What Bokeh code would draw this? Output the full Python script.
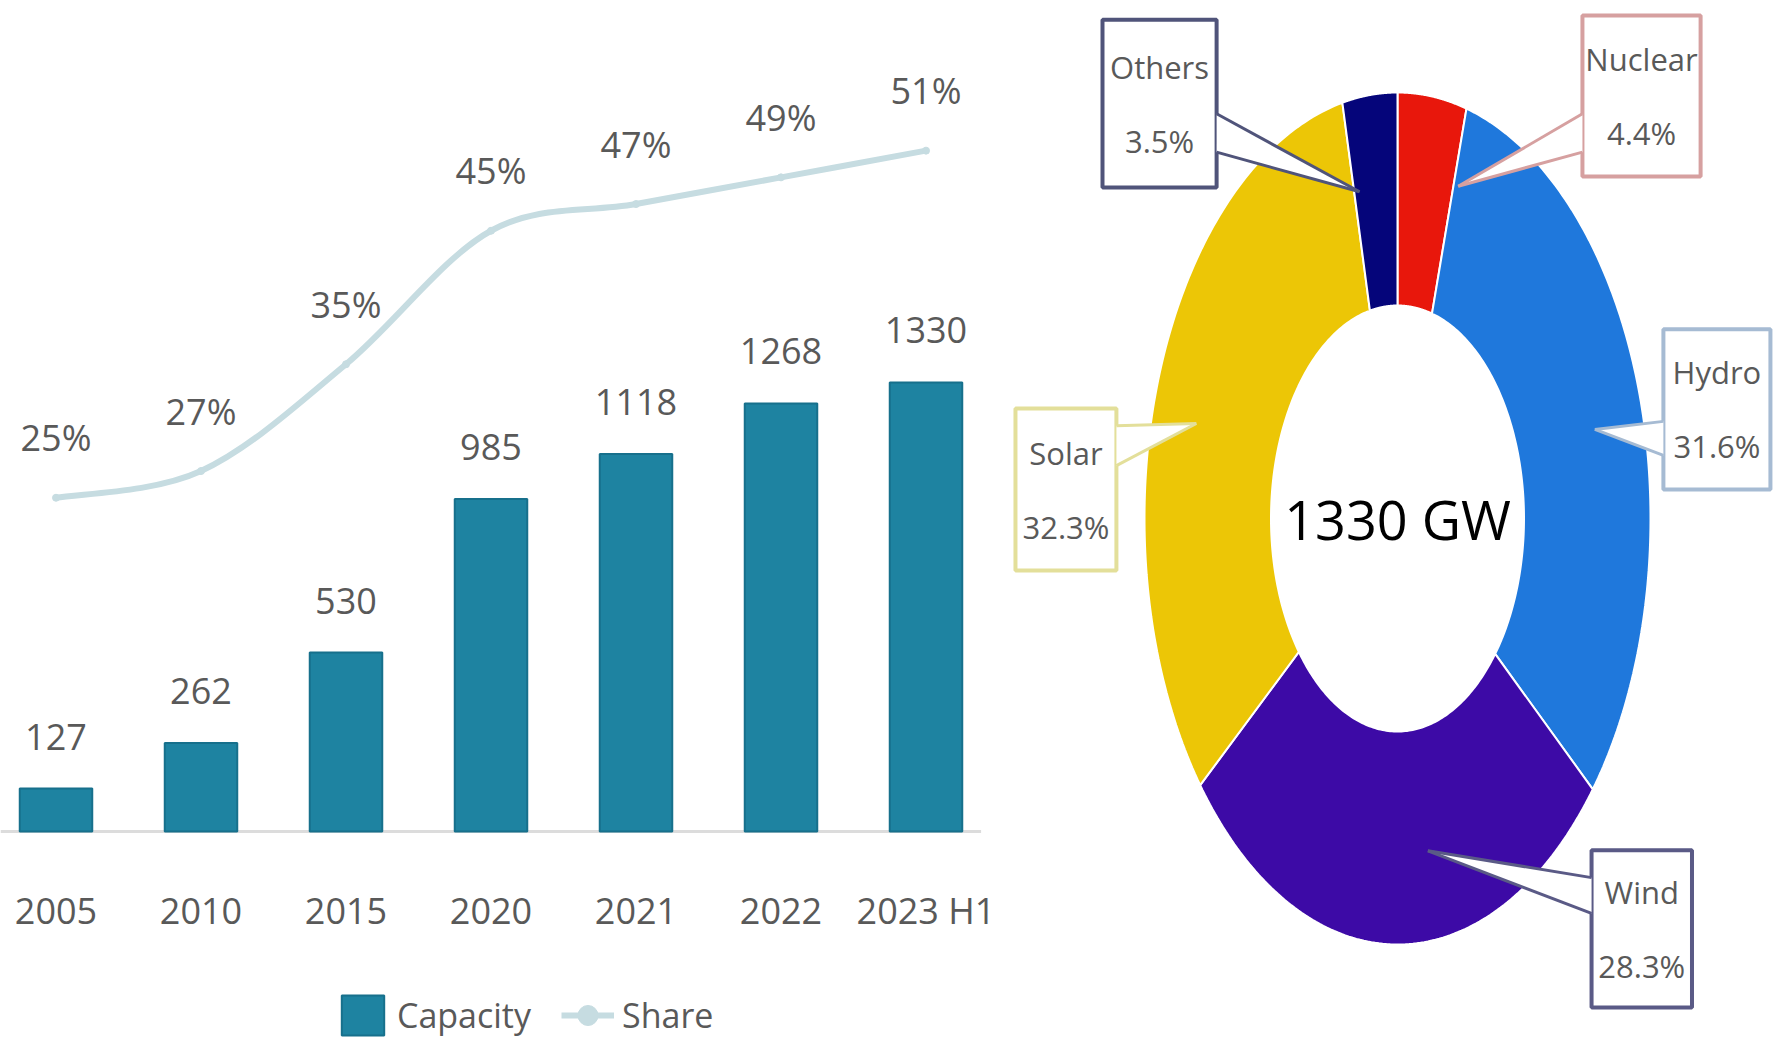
import numpy as np
from bokeh.plotting import figure
from bokeh.models import Range1d, Legend, LegendItem, ColumnDataSource
from bokeh.embed import file_html
from bokeh.resources import INLINE
from bokeh.core.properties import value

# ---------------- data ----------------
years = ["2005", "2010", "2015", "2020", "2021", "2022", "2023 H1"]
capacity = [127, 262, 530, 985, 1118, 1268, 1330]
share = [25, 27, 35, 45, 47, 49, 51]

sources = ["Nuclear", "Hydro", "Wind", "Solar", "Others"]
source_share = [4.4, 31.6, 28.3, 32.3, 3.5]
source_colors = ["#e8170c", "#1f78dc", "#3d0aa6", "#ecc606", "#05057a"]
callout_colors = ["#d6a0a0", "#a6bbd3", "#5a5a86", "#e3df9a", "#50547a"]
total_label = "1330 GW"

FONT = "Open Sans"
GRAY = "#595959"
BAR = "#1e83a1"
LINE = "#c6dce1"

W, H = 1777, 1045
BASE = 831          # baseline of the bar chart, px from top
CAP_PX = 0.3376     # px per GW
SHARE_PX = 13.35    # px per percentage point
CX, CY = 1397, 518  # donut centre, px
RX, RY = 253, 426   # donut outer radii, px

# one frame covering the whole page; each chart has its own ranges
x0 = -55.5 / 145.0
p = figure(width=W, height=H, x_range=Range1d(x0, x0 + W / 145.0),
           y_range=Range1d(-(H - BASE) / CAP_PX, BASE / CAP_PX),
           output_backend="svg",
           toolbar_location=None, x_axis_location=None, y_axis_location=None,
           min_border_left=0, min_border_right=0, min_border_top=0,
           min_border_bottom=0, outline_line_color=None, title=None)
p.xgrid.visible = False
p.ygrid.visible = False
p.extra_y_ranges = {"share": Range1d(-(H - BASE) / SHARE_PX, BASE / SHARE_PX),
                    "pie_y": Range1d(-(H - CY) / RY, CY / RY)}
p.extra_x_ranges = {"pie_x": Range1d(-CX / RX, (W - CX) / RX)}

# ---------------- left: bars + share line ----------------
xs = list(range(len(years)))
src = ColumnDataSource(dict(
    x=xs, cap=capacity, share=share, zero=[0] * len(xs),
    year=years,
    cap_lbl=[str(c) for c in capacity],
    share_lbl=[f"{s}%" for s in share],
))

# baseline (category axis line)
p.segment(x0=[p.x_range.start], x1=[xs[-1] + 0.38], y0=[0], y1=[0],
          line_color="#dcdcdc", line_width=3)

bars = p.vbar(x="x", top="cap", width=0.5, source=src,
              fill_color=BAR, line_color="#17708c", line_width=2)

# smoothed share line (Bezier segments through the data points)
n = len(xs)
P = np.column_stack([xs, share]).astype(float)
bz = dict(x0=[], y0=[], x1=[], y1=[], cx0=[], cy0=[], cx1=[], cy1=[])
for i in range(n - 1):
    a = P[max(i - 1, 0)]
    b = P[i]
    c = P[i + 1]
    d = P[min(i + 2, n - 1)]
    c1 = b + (c - a) / 6.0
    c2 = c - (d - b) / 6.0
    bz["x0"].append(b[0]); bz["y0"].append(b[1])
    bz["x1"].append(c[0]); bz["y1"].append(c[1])
    bz["cx0"].append(c1[0]); bz["cy0"].append(c1[1])
    bz["cx1"].append(c2[0]); bz["cy1"].append(c2[1])
p.bezier(source=ColumnDataSource(bz), x0="x0", y0="y0", x1="x1", y1="y1",
         cx0="cx0", cy0="cy0", cx1="cx1", cy1="cy1", y_range_name="share",
         line_color=LINE, line_width=6)
# legend swatch only (draws nothing in the plot)
ln = p.line(x=[0, 0], y=[np.nan, np.nan], line_color=LINE, line_width=6,
            y_range_name="share")
pts = p.scatter("x", "share", source=src, y_range_name="share",
                marker="circle", size=7, fill_color=LINE, line_color=LINE)

p.text("x", "cap", text="cap_lbl", source=src, y_offset=-52,
       text_align="center", text_baseline="middle",
       text_font=value(FONT), text_font_size="36px", text_color=GRAY)
p.text("x", "share", text="share_lbl", source=src, y_range_name="share",
       y_offset=-60, text_align="center", text_baseline="middle",
       text_font=value(FONT), text_font_size="36px", text_color=GRAY)
# category labels under the baseline
p.text("x", "zero", text="year", source=src, y_offset=79,
       text_align="center", text_baseline="middle",
       text_font=value(FONT), text_font_size="36px", text_color=GRAY)

legend = Legend(items=[LegendItem(label="Capacity", renderers=[bars]),
                       LegendItem(label="Share", renderers=[ln, pts])],
                orientation="horizontal", location=(336, 5),
                border_line_color=None, background_fill_alpha=0,
                glyph_width=53, glyph_height=50, margin=0, padding=0,
                spacing=30, label_standoff=8,
                label_text_font=FONT, label_text_font_size="34px",
                label_text_color=GRAY, label_height=50)
p.add_layout(legend, "center")

# ---------------- right: donut ----------------
PX, PY = "pie_x", "pie_y"
inner_r = 0.5
cum = np.concatenate([[0.0], np.cumsum(source_share)])
tot = cum[-1]
wx, wy = [], []
for i in range(len(source_share)):
    t = np.linspace(cum[i] / tot * 2 * np.pi, cum[i + 1] / tot * 2 * np.pi, 120)
    wx.append(np.concatenate([np.sin(t), inner_r * np.sin(t[::-1])]))
    wy.append(np.concatenate([np.cos(t), inner_r * np.cos(t[::-1])]))
p.patches(xs=wx, ys=wy, fill_color=source_colors, line_color="white",
          line_width=2, x_range_name=PX, y_range_name=PY)

p.text(x=[0], y=[0], text=[total_label], text_align="center",
       text_baseline="middle", text_font=value(FONT),
       text_font_size="54px", text_color="black",
       x_range_name=PX, y_range_name=PY)

# callout layout (box left, right, top, bottom; side of pointer; pointer
# base y0, y1; pointer tip x, y) in donut coordinates
boxes = {
    "Nuclear": (0.731, 1.198, 1.181, 0.803, "left", 0.95, 0.86, 0.24, 0.78),
    "Hydro": (1.051, 1.474, 0.444, 0.068, "left", 0.228, 0.148, 0.78, 0.209),
    "Wind": (0.767, 1.164, -0.779, -1.148, "left", -0.843, -0.927, 0.12, -0.78),
    "Solar": (-1.510, -1.111, 0.258, -0.122, "right", 0.218, 0.124, -0.795, 0.223),
    "Others": (-1.166, -0.715, 1.171, 0.777, "right", 0.95, 0.86, -0.15, 0.767),
}
for name, pct, bc in zip(sources, source_share, callout_colors):
    l, r, t, b, side, y0, y1, tx, ty = boxes[name]
    p.quad(left=[l], right=[r], top=[t], bottom=[b], fill_color="white",
           line_color=bc, line_width=4, x_range_name=PX, y_range_name=PY)
    bx = l if side == "left" else r
    p.patch(x=[bx, tx, bx], y=[y0, ty, y1], fill_color="white",
            line_color=None, x_range_name=PX, y_range_name=PY)
    p.segment(x0=[bx, bx], y0=[y0, y1], x1=[tx, tx], y1=[ty, ty],
              line_color=bc, line_width=3, x_range_name=PX, y_range_name=PY)
    cx, cy = (l + r) / 2, (t + b) / 2
    p.text(x=[cx], y=[cy], text=[name], y_offset=-37,
           text_align="center", text_baseline="middle",
           text_font=value(FONT), text_font_size="31px", text_color=GRAY,
           x_range_name=PX, y_range_name=PY)
    p.text(x=[cx], y=[cy], text=[f"{pct}%"], y_offset=37,
           text_align="center", text_baseline="middle",
           text_font=value(FONT), text_font_size="31px", text_color=GRAY,
           x_range_name=PX, y_range_name=PY)

open("out.html", "w").write(file_html(p, INLINE))
